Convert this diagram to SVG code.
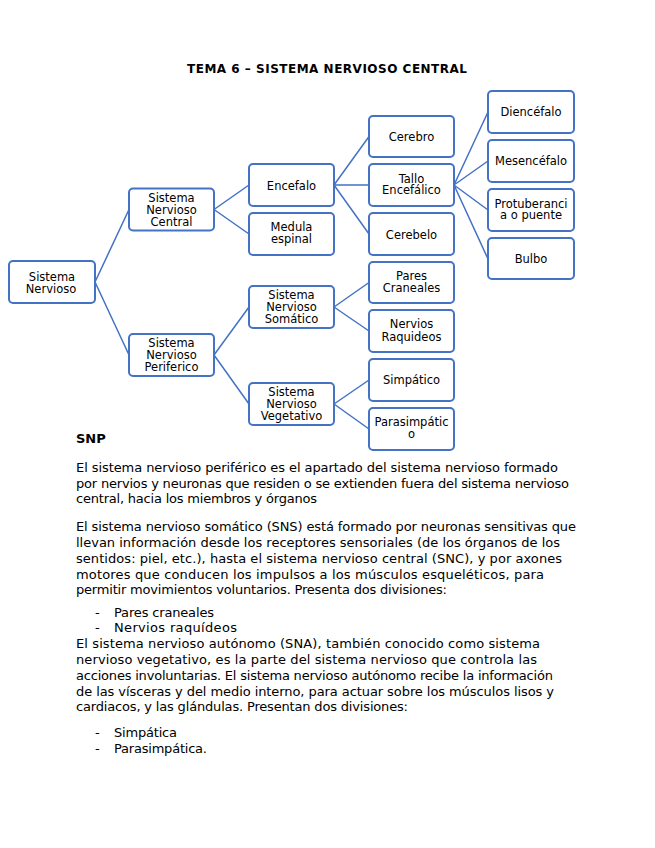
<svg xmlns="http://www.w3.org/2000/svg" width="655" height="848" viewBox="0 0 655 848">
<style>
.bg{fill:#ffffff}
.box{fill:#ffffff;stroke:#4472C4;stroke-width:2}
.lt{fill:none;stroke:#4472C4;stroke-width:1.5}
.nt{font-family:"DejaVu Sans","Liberation Sans",sans-serif;font-size:11.5px;fill:#000;text-anchor:middle}
.bt{font-family:"DejaVu Sans","Liberation Sans",sans-serif;font-size:13px;fill:#000}
.hd{font-family:"DejaVu Sans","Liberation Sans",sans-serif;font-size:13px;font-weight:bold;fill:#000}
.ti{font-family:"DejaVu Sans","Liberation Sans",sans-serif;font-size:12px;font-weight:bold;fill:#000}
</style>
<rect class="bg" x="0" y="0" width="655" height="848"/>
<text class="ti" x="187" y="72.5" textLength="280">TEMA 6 – SISTEMA NERVIOSO CENTRAL</text>

<g id="connectors">
<path class="lt" d="M95,282 L129,209.5 M95,282 L129,355"/>
<path class="lt" d="M214,209.5 L249,185 M214,209.5 L249,234"/>
<path class="lt" d="M214,355 L249,307 M214,355 L249,404"/>
<path class="lt" d="M334,185 L369,136.5 M334,185 L369,185 M334,185 L369,234"/>
<path class="lt" d="M454,185 L488,112 M454,185 L488,161 M454,185 L488,210 M454,185 L488,259"/>
<path class="lt" d="M334,307 L369,282.5 M334,307 L369,331"/>
<path class="lt" d="M334,404 L369,380 M334,404 L369,429"/>
</g>

<g id="n_sn"><rect class="box" x="9" y="261" width="86" height="42" rx="4"/><text class="nt" x="52" y="281">Sistema</text><text class="nt" x="51" y="293">Nervioso</text></g>
<g id="n_snc"><rect class="box" x="129" y="188.5" width="85" height="42" rx="4"/><text class="nt" x="171.5" y="201.5">Sistema</text><text class="nt" x="171.5" y="213.5">Nervioso</text><text class="nt" x="171.5" y="225.5">Central</text></g>
<g id="n_snp"><rect class="box" x="129" y="334" width="85" height="42" rx="4"/><text class="nt" x="171.5" y="347">Sistema</text><text class="nt" x="171.5" y="359">Nervioso</text><text class="nt" x="171.5" y="371">Periferico</text></g>
<g id="n_enc"><rect class="box" x="249" y="164" width="85" height="42" rx="4"/><text class="nt" x="291.5" y="190">Encefalo</text></g>
<g id="n_med"><rect class="box" x="249" y="213" width="85" height="42" rx="4"/><text class="nt" x="291.5" y="231">Medula</text><text class="nt" x="291.5" y="243">espinal</text></g>
<g id="n_sns"><rect class="box" x="249" y="286" width="85" height="42" rx="4"/><text class="nt" x="291.5" y="299">Sistema</text><text class="nt" x="291.5" y="311">Nervioso</text><text class="nt" x="291.5" y="323">Somático</text></g>
<g id="n_snv"><rect class="box" x="249" y="383" width="85" height="42" rx="4"/><text class="nt" x="291.5" y="396">Sistema</text><text class="nt" x="291.5" y="408">Nervioso</text><text class="nt" x="291.5" y="420">Vegetativo</text></g>
<g id="n_cerebro"><rect class="box" x="369" y="116" width="85" height="41" rx="4"/><text class="nt" x="411.5" y="141">Cerebro</text></g>
<g id="n_tallo"><rect class="box" x="369" y="164" width="85" height="42" rx="4"/><text class="nt" x="411.5" y="182.7">Tallo</text><text class="nt" x="411.5" y="194.3">Encefálico</text></g>
<g id="n_cerebelo"><rect class="box" x="369" y="213" width="85" height="42" rx="4"/><text class="nt" x="411.5" y="238.5">Cerebelo</text></g>
<g id="n_pares"><rect class="box" x="369" y="262" width="85" height="41" rx="4"/><text class="nt" x="411.5" y="280">Pares</text><text class="nt" x="411.5" y="291.7">Craneales</text></g>
<g id="n_nervios"><rect class="box" x="369" y="310" width="85" height="42" rx="4"/><text class="nt" x="411.5" y="328.3">Nervios</text><text class="nt" x="411.5" y="340.5">Raquideos</text></g>
<g id="n_simp"><rect class="box" x="369" y="359" width="85" height="42" rx="4"/><text class="nt" x="411.5" y="384">Simpático</text></g>
<g id="n_para"><rect class="box" x="369" y="408" width="85" height="42" rx="4"/><text class="nt" x="411.5" y="425.7">Parasimpátic</text><text class="nt" x="411.5" y="438.3">o</text></g>
<g id="n_dien"><rect class="box" x="488" y="91" width="86" height="42" rx="4"/><text class="nt" x="531" y="116">Diencéfalo</text></g>
<g id="n_mesen"><rect class="box" x="488" y="140" width="86" height="42" rx="4"/><text class="nt" x="531" y="165">Mesencéfalo</text></g>
<g id="n_prot"><rect class="box" x="488" y="189" width="86" height="42" rx="4"/><text class="nt" x="531" y="207.7">Protuberanci</text><text class="nt" x="531" y="219.3">a o puente</text></g>
<g id="n_bulbo"><rect class="box" x="488" y="238" width="86" height="41" rx="4"/><text class="nt" x="531" y="263">Bulbo</text></g>

<g id="body">
<text class="hd" x="76" y="443.3">SNP</text>
<text class="bt" x="76" y="471.7" textLength="482">El sistema nervioso periférico es el apartado del sistema nervioso formado</text>
<text class="bt" x="76" y="487.6" textLength="493">por nervios y neuronas que residen o se extienden fuera del sistema nervioso</text>
<text class="bt" x="76" y="503.4" textLength="241">central, hacia los miembros y órganos</text>
<text class="bt" x="76" y="531" textLength="500">El sistema nervioso somático (SNS) está formado por neuronas sensitivas que</text>
<text class="bt" x="76" y="546.9" textLength="484">llevan información desde los receptores sensoriales (de los órganos de los</text>
<text class="bt" x="76" y="562.7" textLength="486">sentidos: piel, etc.), hasta el sistema nervioso central (SNC), y por axones</text>
<text class="bt" x="76" y="578.5" textLength="468">motores que conducen los impulsos a los músculos esqueléticos, para</text>
<text class="bt" x="76" y="594.3" textLength="371">permitir movimientos voluntarios. Presenta dos divisiones:</text>
<text class="bt" x="95" y="616.5">-</text>
<text class="bt" x="114" y="616.5" textLength="100">Pares craneales</text>
<text class="bt" x="95" y="632.3">-</text>
<text class="bt" x="114" y="632.3" textLength="123">Nervios raquídeos</text>
<text class="bt" x="76" y="648.1" textLength="464">El sistema nervioso autónomo (SNA), también conocido como sistema</text>
<text class="bt" x="76" y="663.9" textLength="461">nervioso vegetativo, es la parte del sistema nervioso que controla las</text>
<text class="bt" x="76" y="679.7" textLength="477">acciones involuntarias. El sistema nervioso autónomo recibe la información</text>
<text class="bt" x="76" y="695.5" textLength="478">de las vísceras y del medio interno, para actuar sobre los músculos lisos y</text>
<text class="bt" x="76" y="711.3" textLength="332">cardiacos, y las glándulas. Presentan dos divisiones:</text>
<text class="bt" x="95" y="736.8">-</text>
<text class="bt" x="114" y="736.8" textLength="63">Simpática</text>
<text class="bt" x="95" y="752.6">-</text>
<text class="bt" x="114" y="752.6" textLength="93">Parasimpática.</text>
</g>
</svg>
